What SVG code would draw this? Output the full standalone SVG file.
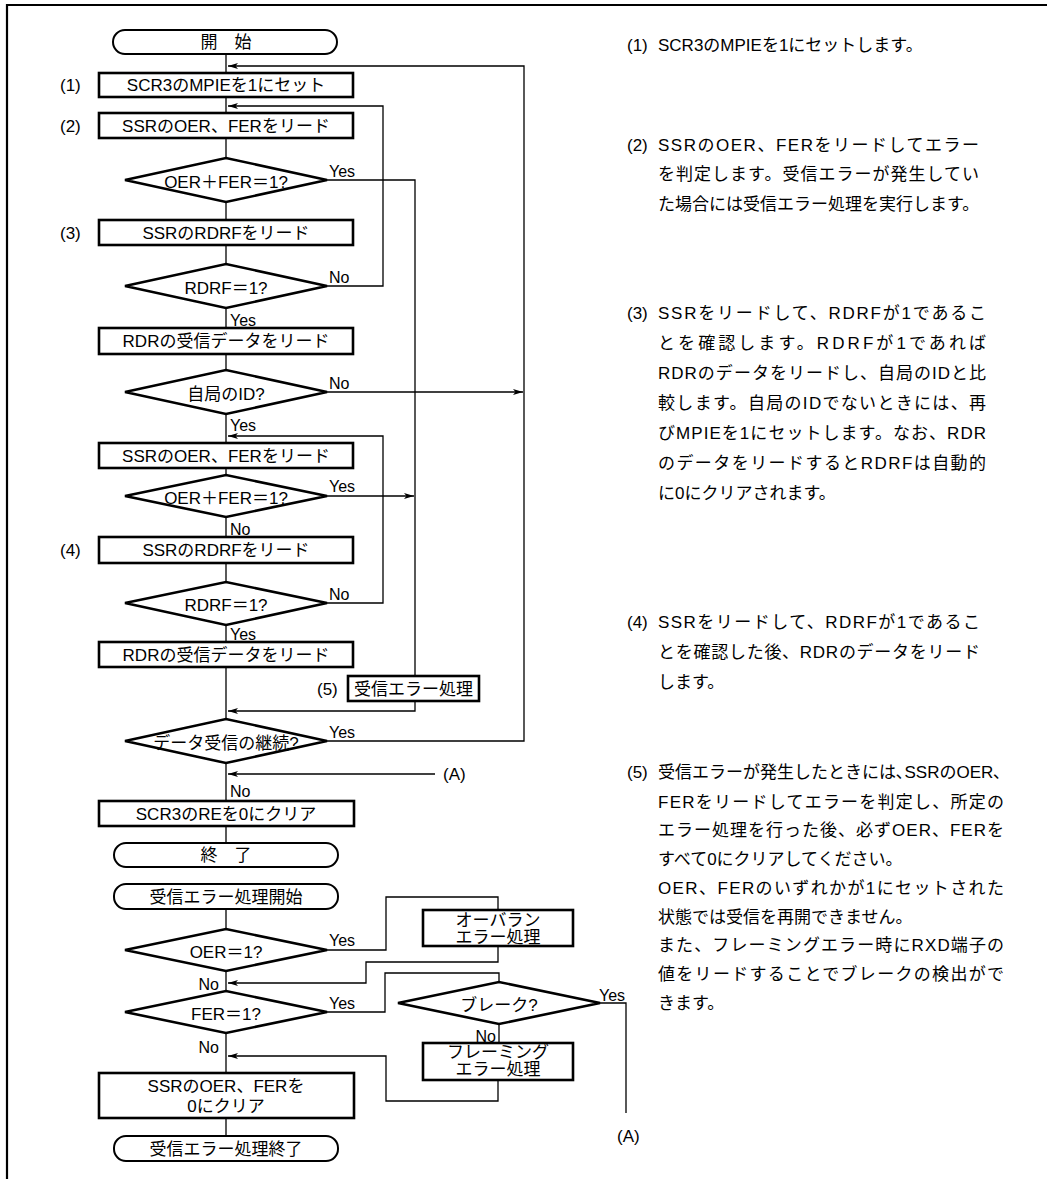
<svg xmlns="http://www.w3.org/2000/svg" width="1047" height="1179" viewBox="0 0 1047 1179">
<defs>
<style>
.t{font-family:'Liberation Sans','Noto Sans CJK JP',sans-serif;font-size:17px;fill:#000}
.c{text-anchor:middle}
.e{text-anchor:end}
.yn{font-family:'Liberation Sans','Noto Sans CJK JP',sans-serif;font-size:16px;fill:#000}
.box{fill:#fff;stroke:#000;stroke-width:2.6}
.term{fill:#fff;stroke:#000;stroke-width:2}
.dia{fill:#fff;stroke:#000;stroke-width:2.6;stroke-linejoin:miter}
.ln{fill:none;stroke:#000;stroke-width:1.3}
.ar{marker-end:url(#ah)}
</style>
<marker id="ah" viewBox="0 0 10 6" refX="10" refY="3" markerWidth="10" markerHeight="6" orient="auto" markerUnits="userSpaceOnUse">
<path d="M0,0 L10,3 L0,6 L2.5,3 z" fill="#000"/>
</marker>
</defs>
<rect width="1047" height="1179" fill="#fff"/>
<path d="M7,1179 V5 H1047" fill="none" stroke="#000" stroke-width="2.2"/>

<g id="connectors">
<path class="ln" d="M226,54 V843"/>
<path class="ln" d="M226,909 V1136"/>
<path class="ln ar" d="M327,741 H524 V66 H228"/>
<path class="ln ar" d="M327,392 H523"/>
<path class="ln ar" d="M327,286 H383 V106 H228"/>
<path class="ln" d="M327,180 H415 V676"/>
<path class="ln ar" d="M327,496 H414"/>
<path class="ln ar" d="M327,603 H383 V436 H228"/>
<path class="ln ar" d="M415,701 V711 H228"/>
<path class="ln ar" d="M435,774 H228"/>
<path class="ln" d="M327,950 H386 V897 H498 V910"/>
<path class="ln ar" d="M498,946 V962 H366 V983 H228"/>
<path class="ln" d="M327,1012 H385 V973 H499 V982"/>
<path class="ln" d="M600,1003 H626 V1113"/>
<path class="ln" d="M499,1024 V1043"/>
<path class="ln ar" d="M498,1080 V1101 H386 V1056 H228"/>
<text class="yn" x="329" y="177">Yes</text>
<text class="yn" x="329" y="283">No</text>
<text class="yn" x="230" y="326">Yes</text>
<text class="yn" x="329" y="389">No</text>
<text class="yn" x="230" y="431">Yes</text>
<text class="yn" x="329" y="492">Yes</text>
<text class="yn" x="230" y="535">No</text>
<text class="yn" x="329" y="600">No</text>
<text class="yn" x="230" y="640">Yes</text>
<text class="yn" x="329" y="738">Yes</text>
<text class="yn" x="230" y="797">No</text>
<text class="t" x="443" y="780">(A)</text>
<text class="yn" x="329" y="946">Yes</text>
<text class="yn e" x="219" y="990">No</text>
<text class="yn" x="329" y="1009">Yes</text>
<text class="yn" x="599" y="1001">Yes</text>
<text class="yn e" x="496" y="1042">No</text>
<text class="yn e" x="219" y="1053">No</text>
<text class="t" x="617" y="1142">(A)</text>
</g>

<g id="n-start"><rect class="term" x="113" y="30" width="224" height="24" rx="12"/><text class="t c" x="226" y="48">開　始</text></g>
<g id="n-1"><text class="t" x="60" y="91">(1)</text><rect class="box" x="99" y="73" width="254" height="24"/><text class="t c" x="226" y="91">SCR3のMPIEを1にセット</text></g>
<g id="n-2"><text class="t" x="60" y="132">(2)</text><rect class="box" x="99" y="113" width="254" height="25"/><text class="t c" x="226" y="132">SSRのOER、FERをリード</text></g>
<g id="n-d1"><polygon class="dia" points="125,180 226,158 327,180 226,202"/><text class="t c" x="226" y="188">OER＋FER＝1?</text></g>
<g id="n-3"><text class="t" x="60" y="239">(3)</text><rect class="box" x="99" y="220" width="254" height="25"/><text class="t c" x="226" y="239">SSRのRDRFをリード</text></g>
<g id="n-d2"><polygon class="dia" points="125,286 226,264 327,286 226,308"/><text class="t c" x="226" y="294">RDRF＝1?</text></g>
<g id="n-rdr1"><rect class="box" x="99" y="328" width="254" height="26"/><text class="t c" x="226" y="347">RDRの受信データをリード</text></g>
<g id="n-d3"><polygon class="dia" points="125,392 226,370 327,392 226,414"/><text class="t c" x="226" y="400">自局のID?</text></g>
<g id="n-ssr2"><rect class="box" x="99" y="443" width="254" height="25"/><text class="t c" x="226" y="462">SSRのOER、FERをリード</text></g>
<g id="n-d4"><polygon class="dia" points="125,496 226,475 327,496 226,517"/><text class="t c" x="226" y="504">OER＋FER＝1?</text></g>
<g id="n-4"><text class="t" x="60" y="556">(4)</text><rect class="box" x="99" y="537" width="254" height="26"/><text class="t c" x="226" y="556">SSRのRDRFをリード</text></g>
<g id="n-d5"><polygon class="dia" points="125,603 226,582 327,603 226,625"/><text class="t c" x="226" y="611">RDRF＝1?</text></g>
<g id="n-rdr2"><rect class="box" x="99" y="642" width="254" height="25"/><text class="t c" x="226" y="661">RDRの受信データをリード</text></g>
<g id="n-5"><text class="t" x="317" y="695">(5)</text><rect class="box" x="348" y="676" width="131" height="25"/><text class="t c" x="413.5" y="695">受信エラー処理</text></g>
<g id="n-d6"><polygon class="dia" points="125,741 226,719 327,741 226,763"/><text class="t c" x="226" y="749">データ受信の継続?</text></g>
<g id="n-re"><rect class="box" x="99" y="801" width="255" height="25"/><text class="t c" x="226" y="820">SCR3のREを0にクリア</text></g>
<g id="n-end"><rect class="term" x="114" y="843" width="224" height="24" rx="12"/><text class="t c" x="226" y="861">終　了</text></g>
<g id="n-estart"><rect class="term" x="114" y="884" width="224" height="25" rx="12"/><text class="t c" x="226" y="903">受信エラー処理開始</text></g>
<g id="n-d7"><polygon class="dia" points="125,950 226,929 327,950 226,971"/><text class="t c" x="226" y="958">OER＝1?</text></g>
<g id="n-over"><rect class="box" x="423" y="910" width="150" height="36"/><text class="t c" x="498" y="926">オーバラン</text><text class="t c" x="498" y="943">エラー処理</text></g>
<g id="n-d8"><polygon class="dia" points="125,1012 226,991 327,1012 226,1033"/><text class="t c" x="226" y="1020">FER＝1?</text></g>
<g id="n-d9"><polygon class="dia" points="398,1003 499,982 600,1003 499,1024"/><text class="t c" x="499" y="1011">ブレーク?</text></g>
<g id="n-frame"><rect class="box" x="423" y="1043" width="150" height="37"/><text class="t c" x="498" y="1058">フレーミング</text><text class="t c" x="498" y="1075">エラー処理</text></g>
<g id="n-clr"><rect class="box" x="99" y="1073" width="255" height="45"/><text class="t c" x="226" y="1092">SSRのOER、FERを</text><text class="t c" x="226" y="1112">0にクリア</text></g>
<g id="n-eend"><rect class="term" x="114" y="1136" width="224" height="25" rx="12"/><text class="t c" x="226" y="1155">受信エラー処理終了</text></g>

<g id="notes">
<text class="t" x="627" y="51">(1)</text>
<text class="t" x="658" y="51">SCR3のMPIEを1にセットします。</text>

<text class="t" x="627" y="151">(2)</text>
<text class="t" x="658" y="151" textLength="321" lengthAdjust="spacing">SSRのOER、FERをリードしてエラー</text>
<text class="t" x="658" y="180" textLength="321" lengthAdjust="spacing">を判定します。受信エラーが発生してい</text>
<text class="t" x="658" y="210">た場合には受信エラー処理を実行します。</text>

<text class="t" x="627" y="319">(3)</text>
<text class="t" x="658" y="319" textLength="328" lengthAdjust="spacing">SSRをリードして、RDRFが1であるこ</text>
<text class="t" x="658" y="349" textLength="328" lengthAdjust="spacing">とを確認します。RDRFが1であれば</text>
<text class="t" x="658" y="379" textLength="328" lengthAdjust="spacing">RDRのデータをリードし、自局のIDと比</text>
<text class="t" x="658" y="409" textLength="328" lengthAdjust="spacing">較します。自局のIDでないときには、再</text>
<text class="t" x="658" y="439" textLength="328" lengthAdjust="spacing">びMPIEを1にセットします。なお、RDR</text>
<text class="t" x="658" y="469" textLength="328" lengthAdjust="spacing">のデータをリードするとRDRFは自動的</text>
<text class="t" x="658" y="499">に0にクリアされます。</text>

<text class="t" x="627" y="628">(4)</text>
<text class="t" x="658" y="628" textLength="322" lengthAdjust="spacing">SSRをリードして、RDRFが1であるこ</text>
<text class="t" x="658" y="658" textLength="322" lengthAdjust="spacing">とを確認した後、RDRのデータをリード</text>
<text class="t" x="658" y="688">します。</text>

<text class="t" x="627" y="778">(5)</text>
<text class="t" x="658" y="778">受信エラーが発生したときには､SSRのOER､</text>
<text class="t" x="658" y="808" textLength="346" lengthAdjust="spacing">FERをリードしてエラーを判定し、所定の</text>
<text class="t" x="658" y="836" textLength="346" lengthAdjust="spacing">エラー処理を行った後、必ずOER、FERを</text>
<text class="t" x="658" y="865">すべて0にクリアしてください。</text>
<text class="t" x="658" y="894" textLength="346" lengthAdjust="spacing">OER、FERのいずれかが1にセットされた</text>
<text class="t" x="658" y="923">状態では受信を再開できません。</text>
<text class="t" x="658" y="951" textLength="346" lengthAdjust="spacing">また、フレーミングエラー時にRXD端子の</text>
<text class="t" x="658" y="980" textLength="346" lengthAdjust="spacing">値をリードすることでブレークの検出がで</text>
<text class="t" x="658" y="1009">きます。</text>
</g>
</svg>
